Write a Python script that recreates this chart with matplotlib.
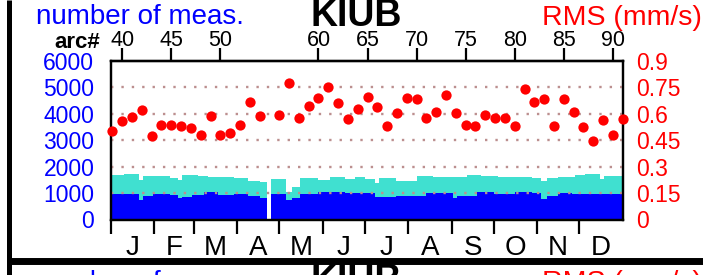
import numpy as np
import matplotlib
matplotlib.use("Agg")
import matplotlib.pyplot as plt
from matplotlib.lines import Line2D

plt.rcParams['font.family'] = ['Liberation Sans', 'DejaVu Sans']

# ---------------- data ----------------
# daily-count segments (start day of year), total count (cyan top) and blue count
seg_start = [0, 9, 20, 23, 30, 33, 42, 48, 51, 58, 62, 66, 69, 76, 88, 98, 106, 111, 114, 125,
             129, 135, 148, 156, 167, 174, 181, 188, 191, 203, 218, 225, 230, 244, 247, 254, 261,
             264, 273, 276, 288, 300, 307, 311, 319, 329, 331, 338, 349, 352]
seg_end = 365
total_meas = [1682, 1709, 1493, 1660, 1660, 1633, 1584, 1493, 1682, 1682, 1633, 1633, 1607, 1607,
              1557, 1454, 1405, 0, 1519, 1052, 1215, 1584, 1508, 1607, 1519, 1607, 1531, 1367,
              1557, 1454, 1660, 1660, 1595, 1622, 1622, 1682, 1682, 1633, 1633, 1595, 1590, 1584,
              1454, 1557, 1607, 1607, 1682, 1720, 1531, 1660]
blue_meas = [950, 950, 733, 900, 961, 961, 923, 824, 862, 923, 923, 1025, 1025, 923, 950, 900,
             798, 0, 950, 733, 824, 950, 1025, 1025, 987, 987, 987, 836, 836, 900, 900, 1014,
             1014, 824, 900, 900, 1025, 1025, 961, 961, 1052, 987, 771, 900, 987, 961, 961, 961,
             950, 950]

arcs = [39, 40, 41, 42, 43, 44, 45, 46, 47, 48, 49, 50, 51, 52, 53, 54, 56, 57, 58, 59, 60,
        61, 62, 63, 64, 65, 66, 67, 68, 69, 70, 71, 72, 73, 74, 75, 76, 77, 78, 79, 80, 81,
        82, 83, 84, 85, 86, 87, 88, 89, 90, 91]
rms = [0.503, 0.560, 0.583, 0.621, 0.473, 0.534, 0.534, 0.530, 0.520, 0.480, 0.585, 0.482,
       0.494, 0.535, 0.665, 0.588, 0.594, 0.773, 0.574, 0.644, 0.691, 0.754, 0.663, 0.570,
       0.625, 0.697, 0.640, 0.530, 0.606, 0.688, 0.684, 0.575, 0.611, 0.706, 0.602, 0.534,
       0.530, 0.596, 0.574, 0.579, 0.530, 0.739, 0.668, 0.682, 0.530, 0.682, 0.611, 0.526,
       0.445, 0.564, 0.479, 0.570]

arc_tick_labels = [40, 45, 50, 60, 65, 70, 75, 80, 85, 90]
month_labels = ['J', 'F', 'M', 'A', 'M', 'J', 'J', 'A', 'S', 'O', 'N', 'D']
month_days = [31, 28, 31, 30, 31, 30, 31, 31, 30, 31, 30, 31]
left_ticks = [0, 1000, 2000, 3000, 4000, 5000, 6000]
right_ticks = [0, 0.15, 0.3, 0.45, 0.6, 0.75, 0.9]
right_labels = ['0', '0.15', '0.3', '0.45', '0.6', '0.75', '0.9']
grid_levels = [1000, 2000, 3000, 4000, 5000]
ARC0, ARC0_DAY, ARC_LEN = 39, 1.0, 7.0

# ---------------- figure ----------------
W, H = 703, 275
fig = plt.figure(figsize=(W / 100, H / 100), dpi=100)

def fx(px):
    return px / W

def fy(py):
    return 1 - py / H

L, R, T, B = 111, 622.7, 61, 219.5
ax = fig.add_axes([fx(L), fy(B), fx(R) - fx(L), fy(T) - fy(B)])
ax.set_xlim(0, 365)
ax.set_ylim(0, 6000)

starts = np.array(seg_start, dtype=float)
widths = np.diff(np.append(starts, seg_end))
ax.bar(starts, total_meas, width=widths, align='edge', color='#40e0d0', linewidth=0, zorder=1)
ax.bar(starts, blue_meas, width=widths, align='edge', color='#0000ff', linewidth=0, zorder=2)
for g in grid_levels:
    ax.axhline(g, color='#bc8f8f', lw=1.7, ls=(0, (1, 3.4)), zorder=3)

# bottom month axis
edges = np.concatenate([[0], np.cumsum(month_days)])
mids = (edges[:-1] + edges[1:]) / 2
ax.set_xticks(edges[:-1])
ax.set_xticklabels([])
ax.set_xticks(mids, minor=True)
ax.set_xticklabels(month_labels, minor=True)
ax.tick_params(axis='x', which='major', direction='out', length=10, width=1.6, color='black',
               bottom=True, top=False)
ax.tick_params(axis='x', which='minor', length=0, pad=11, labelsize=20)

ax.set_yticks(left_ticks)
ax.set_yticklabels([str(v) for v in left_ticks])
ax.tick_params(axis='y', length=0, pad=12, labelsize=16.5, labelcolor='#0000ff')

for s in ax.spines.values():
    s.set_linewidth(1.6)
    s.set_color('black')

# right RMS axis
axr = ax.twinx()
axr.set_ylim(0, 0.9)
axr.set_yticks(right_ticks)
axr.set_yticklabels(right_labels)
axr.tick_params(axis='y', length=0, pad=10, labelsize=16.5, labelcolor='#ff0000')
for s in axr.spines.values():
    s.set_linewidth(1.6)

arc_to_day = lambda a: ARC0_DAY + ARC_LEN * (np.asarray(a, dtype=float) - ARC0)
day_to_arc = lambda d: ARC0 + (np.asarray(d, dtype=float) - ARC0_DAY) / ARC_LEN
axr.plot(arc_to_day(arcs), rms, 'o', color='#ff0000', markersize=7.4, markeredgewidth=0,
         clip_on=False, zorder=5)

# top arc axis
sec = ax.secondary_xaxis('top', functions=(day_to_arc, arc_to_day))
sec.set_xticks(arc_tick_labels)
sec.set_xticklabels([str(a) for a in arc_tick_labels])
sec.tick_params(direction='out', length=9.5, width=1.6, pad=-2.5, labelsize=15.5)
sec.spines['top'].set_linewidth(1.6)

# texts
def texts(dy):
    fig.text(fx(36), fy(24.5 + dy), 'number of meas.', color='#0000ff', fontsize=20,
             ha='left', va='baseline')
    fig.text(fx(356.5), fy(26 + dy), 'KIUB', color='black', fontsize=27, fontweight='bold',
             ha='center', va='baseline')
    fig.text(fx(701.5), fy(25 + dy), 'RMS (mm/s)', color='#ff0000', fontsize=20.5,
             ha='right', va='baseline')

texts(0)
texts(265)
fig.text(fx(100), fy(48.3), 'arc#', color='black', fontsize=16, fontweight='bold',
         ha='right', va='baseline')

# outer frame lines
fig.add_artist(Line2D([fx(9.2), fx(9.2)], [0, 1], color='black', lw=3.6,
                      transform=fig.transFigure, solid_capstyle='butt'))
fig.add_artist(Line2D([fx(7), 1], [fy(260.7), fy(260.7)], color='black', lw=5,
                      transform=fig.transFigure, solid_capstyle='butt'))

fig.savefig('out.png', dpi=100)
